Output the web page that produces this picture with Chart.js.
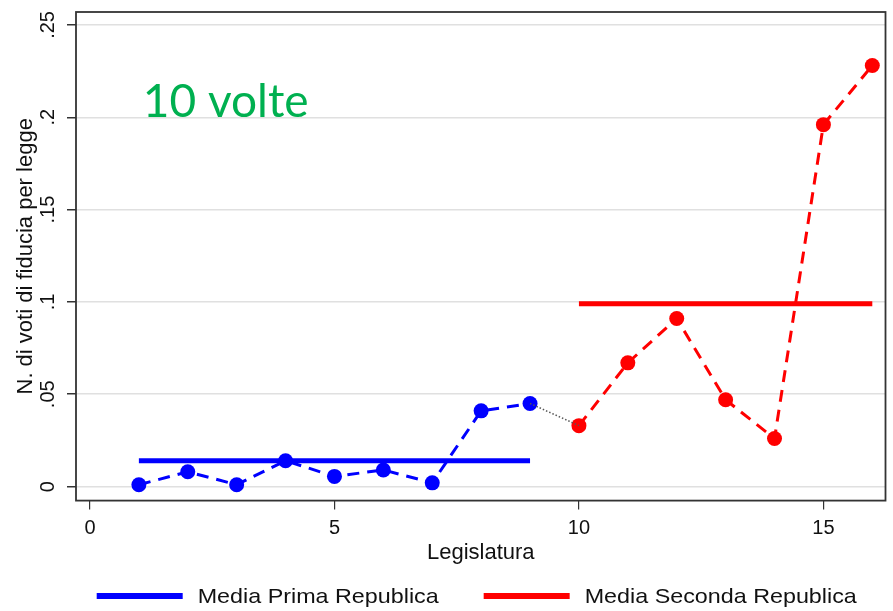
<!DOCTYPE html>
<html>
<head>
<meta charset="utf-8">
<script src="https://cdn.jsdelivr.net/npm/chart.js@4.4.1/dist/chart.umd.min.js"></script>
<style>
  html, body { margin: 0; padding: 0; background: #ffffff; }
  #wrap { width: 893px; height: 611px; position: relative; }
</style>
</head>
<body>
<div id="wrap"><canvas id="c" width="893" height="611"></canvas></div>
<script>
// ---- Data ----
const primaX = [1, 2, 3, 4, 5, 6, 7, 8, 9];
const primaY = [0.001, 0.008, 0.001, 0.014, 0.0055, 0.009, 0.002, 0.041, 0.045];
const secondaX = [10, 11, 12, 13, 14, 15, 16];
const secondaY = [0.033, 0.067, 0.091, 0.047, 0.026, 0.196, 0.228];
const mediaPrima = 0.014;
const mediaSeconda = 0.099;
const xTicks = [0, 5, 10, 15];
const yTicks = [0, 0.05, 0.1, 0.15, 0.2, 0.25];
const yTickLabels = ['0', '.05', '.1', '.15', '.2', '.25'];
const legendLabels = ['Media Prima Republica', 'Media Seconda Republica'];
const legendColors = ['#0000ff', '#ff0000'];
const annotationText = '10 volte';
const annotationPos = { x: 1.08, y: 0.2 };
const xTitle = 'Legislatura';
const yTitle = 'N. di voti di fiducia per legge';

const toXY = (xs, ys) => xs.map((x, i) => ({ x: x, y: ys[i] }));

const FONT = "'Liberation Sans', Arial, sans-serif";

const framePlugin = {
  id: 'frame',
  afterDatasetsDraw(chart) {
    const { ctx, chartArea: a } = chart;
    ctx.save();
    ctx.strokeStyle = '#333333';
    ctx.lineWidth = 1.8;
    ctx.strokeRect(a.left, a.top, a.right - a.left, a.bottom - a.top);
    ctx.restore();
  }
};

const annotationPlugin = {
  id: 'annot',
  afterDraw(chart) {
    const { ctx } = chart;
    const xs = chart.scales.x, ys = chart.scales.y;
    ctx.save();
    ctx.fillStyle = '#00B050';
    ctx.font = "46px Lato, 'Open Sans', sans-serif";
    ctx.textAlign = 'left';
    ctx.textBaseline = 'alphabetic';
    ctx.fillText(annotationText, xs.getPixelForValue(annotationPos.x), ys.getPixelForValue(annotationPos.y));
    ctx.restore();
  }
};

const legendPlugin = {
  id: 'customLegend',
  afterDraw(chart) {
    const { ctx } = chart;
    const lineW = 86, gapText = 15, gapItems = 45, y = 597, stretch = 1.11;
    ctx.save();
    ctx.font = '21px ' + FONT;
    const widths = legendLabels.map(t => ctx.measureText(t).width * stretch);
    let total = 0;
    widths.forEach((w, i) => { total += lineW + gapText + w + (i < widths.length - 1 ? gapItems : 0); });
    const a = chart.chartArea;
    let x = (a.left + a.right) / 2 - 4 - total / 2;
    legendLabels.forEach((t, i) => {
      ctx.strokeStyle = legendColors[i];
      ctx.lineWidth = 6;
      ctx.beginPath();
      ctx.moveTo(x, y - 1);
      ctx.lineTo(x + lineW, y - 1);
      ctx.stroke();
      ctx.save();
      ctx.translate(x + lineW + gapText, y);
      ctx.scale(stretch, 1);
      ctx.fillStyle = '#111111';
      ctx.textAlign = 'left';
      ctx.textBaseline = 'middle';
      ctx.fillText(t, 0, 0);
      ctx.restore();
      x += lineW + gapText + widths[i] + gapItems;
    });
    ctx.restore();
  }
};

new Chart(document.getElementById('c'), {
  type: 'line',
  data: {
    datasets: [
      {
        label: 'conn',
        data: toXY([primaX[primaX.length - 1], secondaX[0]], [primaY[primaY.length - 1], secondaY[0]]),
        borderColor: '#555555',
        borderWidth: 1.5,
        borderDash: [1.5, 2],
        pointRadius: 0,
        fill: false
      },
      {
        label: 'prima',
        data: toXY(primaX, primaY),
        borderColor: '#0000ff',
        backgroundColor: '#0000ff',
        borderWidth: 3,
        borderDash: [12, 8],
        pointRadius: 7.5,
        pointBorderWidth: 0,
        pointBackgroundColor: '#0000ff',
        fill: false
      },
      {
        label: 'seconda',
        data: toXY(secondaX, secondaY),
        borderColor: '#ff0000',
        backgroundColor: '#ff0000',
        borderWidth: 3,
        borderDash: [12, 8],
        pointRadius: 7.5,
        pointBorderWidth: 0,
        pointBackgroundColor: '#ff0000',
        fill: false
      },
      {
        label: legendLabels[0],
        data: toXY([primaX[0], primaX[primaX.length - 1]], [mediaPrima, mediaPrima]),
        borderColor: '#0000ff',
        backgroundColor: '#0000ff',
        borderWidth: 5,
        pointRadius: 0,
        fill: false
      },
      {
        label: legendLabels[1],
        data: toXY([secondaX[0], secondaX[secondaX.length - 1]], [mediaSeconda, mediaSeconda]),
        borderColor: '#ff0000',
        backgroundColor: '#ff0000',
        borderWidth: 5,
        pointRadius: 0,
        fill: false
      }
    ]
  },
  options: {
    responsive: false,
    animation: false,
    events: [],
    layout: { padding: { top: 12, right: 6, left: 15, bottom: 43 } },
    plugins: {
      tooltip: { enabled: false },
      legend: { display: false }
    },
    scales: {
      x: {
        type: 'linear',
        min: -0.286,
        max: 16.27,
        afterBuildTicks: (s) => { s.ticks = xTicks.map(v => ({ value: v })); },
        grid: { drawOnChartArea: false, drawTicks: true, tickLength: 9, color: '#333333', tickColor: '#333333', lineWidth: 1.2 },
        border: { display: false },
        ticks: { color: '#111111', font: { family: FONT, size: 20, lineHeight: 1 }, padding: 9, maxRotation: 0 },
        title: { display: true, text: xTitle, color: '#111111', font: { family: FONT, size: 22 }, padding: { top: -8, bottom: 2 } }
      },
      y: {
        type: 'linear',
        min: -0.0076,
        max: 0.257,
        afterBuildTicks: (s) => { s.ticks = yTicks.map(v => ({ value: v })); },
        afterFit: (s) => { s.paddingTop = 0; },
        grid: { drawTicks: true, tickLength: 9, color: '#e0e0e0', tickColor: '#333333', lineWidth: 1.5 },
        border: { display: false },
        ticks: {
          color: '#111111',
          font: { family: FONT, size: 20, lineHeight: 1 },
          padding: 5,
          minRotation: 90,
          maxRotation: 90,
          crossAlign: 'center',
          callback: (v) => { const i = yTicks.indexOf(v); return i >= 0 ? yTickLabels[i] : ''; }
        },
        title: { display: true, text: yTitle, color: '#111111', font: { family: FONT, size: 22, lineHeight: 1 }, padding: { top: 0, bottom: 0 } }
      }
    }
  },
  plugins: [framePlugin, annotationPlugin, legendPlugin]
});
</script>
</body>
</html>
